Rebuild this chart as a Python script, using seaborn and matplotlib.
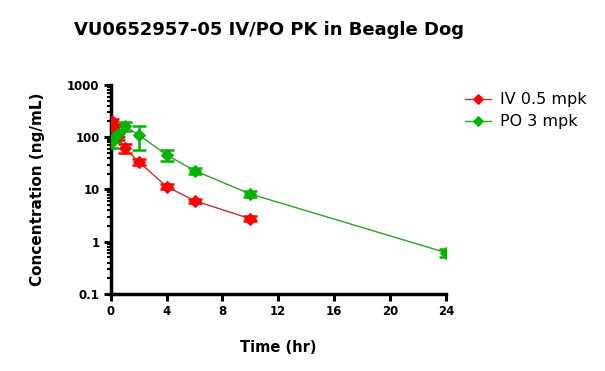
import numpy as np
import pandas as pd
import matplotlib
matplotlib.use("Agg")
import matplotlib.pyplot as plt
import seaborn as sns
from matplotlib.ticker import LogLocator, FixedLocator, NullFormatter

sns.set_style("ticks")
plt.rcParams['font.family'] = ['DejaVu Sans']
plt.rcParams['text.color'] = 'black'
plt.rcParams['axes.labelcolor'] = 'black'
plt.rcParams['xtick.color'] = 'black'
plt.rcParams['ytick.color'] = 'black'

# Data
iv_time = [0.083, 0.25, 0.5, 1, 2, 4, 6, 10]
iv_conc = [200, 160, 105, 62, 34, 11.4, 6.1, 2.75]
iv_sd = [25, 20, 15, 12, 4, 1.2, 0.6, 0.3]

po_time = [0.083, 0.25, 0.5, 1, 2, 4, 6, 10, 24]
po_conc = [80, 95, 115, 164, 111, 46, 23, 8.2, 0.62]
po_sd = [18, 15, 15, 35, 53, 11, 3, 1.0, 0.12]

x_ticks = [0, 4, 8, 12, 16, 20, 24]
y_ticks = [0.1, 1, 10, 100, 1000]
y_labels = ["0.1", "1", "10", "100", "1000"]

df = pd.concat([
    pd.DataFrame({"Time": iv_time, "Conc": iv_conc, "SD": iv_sd, "Group": "IV 0.5 mpk"}),
    pd.DataFrame({"Time": po_time, "Conc": po_conc, "SD": po_sd, "Group": "PO 3 mpk"}),
])

fig = plt.figure(figsize=(6.05, 3.71), dpi=100)
ax = fig.add_axes([0.183, 0.2075, 0.554, 0.5635])

styles = {"IV 0.5 mpk": ("#c03030", "#ff0000"), "PO 3 mpk": ("#2ca02c", "#00b400")}
for grp, sub in df.groupby("Group"):
    lc, mc = styles[grp]
    ax.errorbar(sub["Time"], sub["Conc"], yerr=sub["SD"], fmt="none",
                ecolor=mc, elinewidth=1.8, capsize=5, capthick=1.8, zorder=3)
    sns.lineplot(data=sub, x="Time", y="Conc", ax=ax, color=lc, linewidth=1.0,
                 marker="D", markersize=6, markerfacecolor=mc, markeredgecolor=mc,
                 label=grp, zorder=4, legend=False)

ax.set_yscale("log")
ax.set_ylim(0.1, 1000)
ax.set_xlim(0, 24)
ax.xaxis.set_major_locator(FixedLocator(x_ticks))
ax.set_xticklabels([str(t) for t in x_ticks])
ax.yaxis.set_major_locator(FixedLocator(y_ticks))
ax.set_yticklabels(y_labels)
ax.yaxis.set_minor_locator(LogLocator(base=10, subs=np.arange(2, 10)))
ax.yaxis.set_minor_formatter(NullFormatter())

for s in ["top", "right"]:
    ax.spines[s].set_visible(False)
for s in ["left", "bottom"]:
    ax.spines[s].set_linewidth(2.5)
    ax.spines[s].set_color("black")
ax.tick_params(axis="both", which="major", width=2.2, length=5, direction="out",
               labelsize=8.5, pad=3)
ax.tick_params(axis="y", which="minor", width=1.5, length=3, direction="out")
for lbl in ax.get_xticklabels() + ax.get_yticklabels():
    lbl.set_fontweight("bold")

ax.set_xlabel("Time (hr)", fontsize=10.5, fontweight="bold", labelpad=16)
ax.set_ylabel("Concentration (ng/mL)", fontsize=11, fontweight="bold", labelpad=16)
fig.text(0.445, 0.92, "VU0652957-05 IV/PO PK in Beagle Dog", ha="center", va="center",
         fontsize=13, fontweight="bold")

handles, labels = ax.get_legend_handles_labels()
leg = fig.legend(handles, labels, loc="upper left", bbox_to_anchor=(0.745, 0.79),
                 frameon=False, fontsize=11.5, handlelength=1.6, labelspacing=0.45,
                 handletextpad=0.6, markerscale=0.9)

fig.savefig("out.png", dpi=100)
